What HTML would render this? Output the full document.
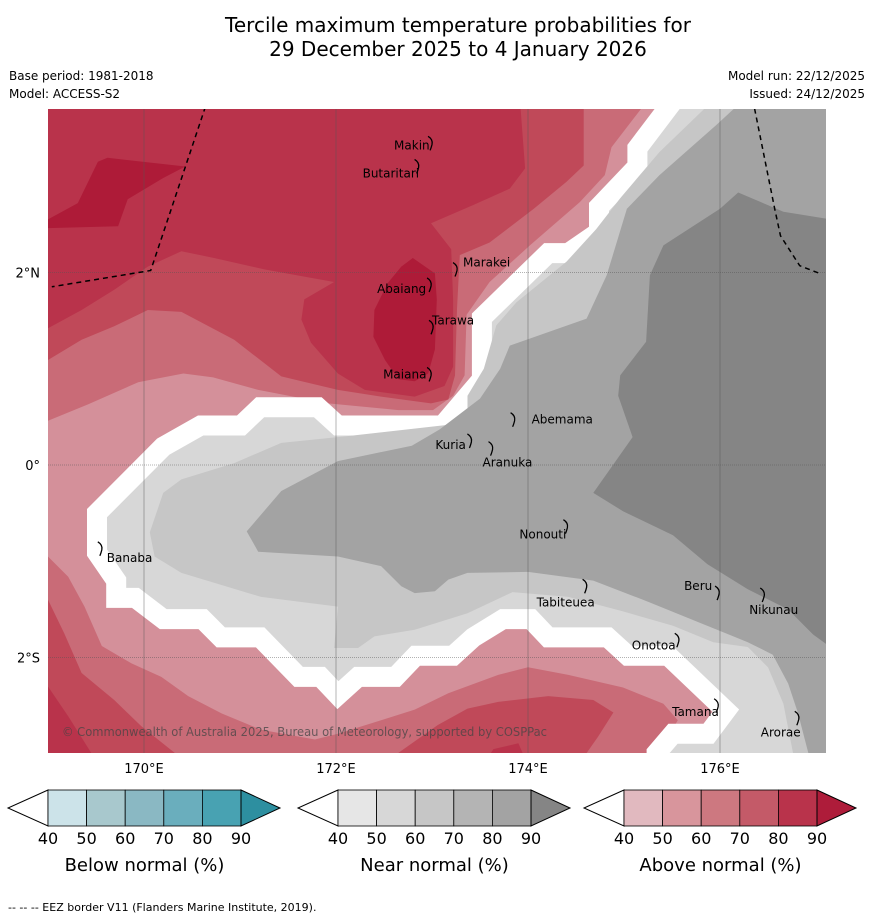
<!DOCTYPE html>
<html><head><meta charset="utf-8">
<style>
html,body{margin:0;padding:0;background:#fff;}
svg{display:block;font-family:"DejaVu Sans","Liberation Sans",sans-serif;}
</style></head>
<body>
<svg id="chart" width="873" height="919" viewBox="0 0 873 919" xmlns="http://www.w3.org/2000/svg">
<text x="458" y="32" font-size="20" text-anchor="middle" fill="#000">Tercile maximum temperature probabilities for</text>
<text x="458" y="56" font-size="20" text-anchor="middle" fill="#000">29 December 2025 to 4 January 2026</text>
<text x="9" y="80" font-size="12" fill="#000">Base period: 1981-2018</text>
<text x="9" y="98" font-size="12" fill="#000">Model: ACCESS-S2</text>
<text x="865" y="80" font-size="12" text-anchor="end" fill="#000">Model run: 22/12/2025</text>
<text x="865" y="98" font-size="12" text-anchor="end" fill="#000">Issued: 24/12/2025</text>
<defs><clipPath id="mapclip"><rect x="48" y="109" width="778" height="644"/></clipPath></defs>
<g id="map" clip-path="url(#mapclip)"></g>
<g id="axes"></g>
<g id="cbars"></g>
<text x="8" y="911" font-size="11" fill="#000">--  --  -- EEZ border V11 (Flanders Marine Institute, 2019).</text>
</svg>
<script>
// ---- data (lon, lat) ----
const above60Top=[[168.95,3.74],[175.21,3.74],[174.87,3.30],[174.80,3.01],[174.54,2.73],[174.02,2.28],[173.60,1.90],[173.36,1.56],[173.34,0.93],[173.22,0.72],[173.01,0.57],[172.65,0.57],[171.92,0.64],[171.19,0.78],[170.72,0.91],[170.41,0.95],[169.94,0.86],[169.42,0.63],[169.00,0.46],[168.95,0.46]];
const above70Top=[[168.95,3.74],[174.58,3.74],[174.58,3.11],[174.40,2.94],[174.06,2.66],[173.60,2.31],[173.29,2.18],[173.26,1.62],[173.24,0.93],[173.17,0.68],[172.99,0.64],[172.47,0.71],[172.02,0.78],[171.43,0.92],[170.94,1.30],[170.39,1.59],[170.04,1.61],[169.69,1.44],[169.35,1.30],[169.00,1.09],[168.95,1.09]];
const above80Top=[[168.95,3.74],[173.92,3.74],[173.97,3.08],[173.81,2.87],[173.43,2.70],[172.99,2.51],[173.20,2.24],[173.22,1.72],[173.22,1.02],[173.13,0.82],[172.82,0.71],[172.30,0.78],[172.02,0.95],[171.74,1.27],[171.64,1.51],[171.67,1.72],[171.98,1.90],[171.26,2.03],[170.73,2.15],[170.39,2.22],[170.04,2.06],[169.69,1.82],[169.35,1.61],[169.00,1.42],[168.95,1.42]];
const above90West=[[168.95,2.55],[169.00,2.55],[169.31,2.72],[169.52,3.15],[169.62,3.19],[170.43,3.10],[170.20,2.98],[169.83,2.76],[169.73,2.48],[169.00,2.46],[168.95,2.46]];
const above90Tarawa=[[172.80,2.15],[173.03,1.99],[173.05,1.72],[173.03,1.20],[172.96,0.95],[172.82,0.87],[172.65,0.89],[172.51,1.09],[172.39,1.33],[172.40,1.61],[172.54,1.89],[172.68,2.06]];
const above60South=[[168.95,-0.95],[169.00,-0.95],[169.21,-1.16],[169.38,-1.47],[169.56,-1.88],[169.87,-2.06],[170.18,-2.20],[170.46,-2.40],[170.81,-2.58],[171.22,-2.75],[171.78,-2.85],[172.02,-2.79],[172.47,-2.65],[172.82,-2.54],[173.17,-2.37],[173.69,-2.18],[174.00,-2.10],[174.42,-2.18],[174.99,-2.31],[175.41,-2.48],[175.56,-2.65],[175.46,-2.82],[175.30,-2.99],[175.30,-3.12],[168.95,-3.12]];
const above70SW=[[168.95,-1.40],[169.00,-1.40],[169.17,-1.75],[169.35,-2.16],[169.69,-2.44],[169.97,-2.71],[170.32,-2.99],[170.32,-3.12],[168.95,-3.12]];
const above80SW=[[168.95,-2.30],[169.00,-2.30],[169.21,-2.61],[169.45,-2.99],[169.45,-3.12],[168.95,-3.12]];
const above70South=[[172.54,-3.12],[172.65,-2.99],[173.06,-2.70],[173.37,-2.53],[173.69,-2.46],[174.21,-2.40],[174.68,-2.44],[174.89,-2.57],[174.73,-2.82],[174.52,-3.12]];
const above80South=[[173.53,-3.12],[173.64,-2.95],[173.90,-2.89],[174.00,-3.12]];
const near50=[[175.55,3.83],[175.14,3.29],[175.14,3.10],[174.74,2.68],[174.74,2.42],[174.42,2.20],[174.21,2.20],[173.52,1.53],[173.52,0.89],[173.11,0.41],[172.02,0.41],[171.81,0.60],[171.21,0.60],[171.01,0.41],[170.59,0.41],[170.20,0.19],[169.51,-0.50],[169.51,-0.91],[169.71,-1.20],[169.71,-1.38],[169.91,-1.38],[170.20,-1.60],[170.61,-1.60],[170.80,-1.79],[171.21,-1.79],[171.61,-2.20],[171.84,-2.20],[172.02,-2.39],[172.23,-2.20],[172.62,-2.20],[172.83,-1.98],[173.22,-1.98],[173.43,-1.79],[173.74,-1.60],[174.03,-1.60],[174.21,-1.79],[174.83,-1.79],[175.04,-1.98],[175.46,-1.98],[176.06,-2.55],[175.88,-2.79],[175.51,-2.79],[175.34,-2.99],[175.34,-3.21],[177.85,-3.21],[177.85,3.83]];
const near60=[[175.88,3.74],[175.37,3.25],[174.96,2.77],[174.71,2.45],[174.40,2.11],[173.88,1.69],[173.67,1.45],[173.54,1.00],[173.37,0.72],[173.37,0.44],[172.12,0.30],[171.43,0.23],[170.94,0.02],[170.39,-0.15],[170.20,-0.29],[170.06,-0.70],[170.11,-0.95],[170.39,-1.12],[171.22,-1.37],[172.02,-1.47],[171.98,-1.90],[172.23,-1.90],[172.40,-1.78],[172.82,-1.71],[173.37,-1.54],[173.84,-1.32],[174.42,-1.37],[174.99,-1.52],[175.51,-1.67],[175.93,-1.84],[176.29,-1.89],[176.50,-2.10],[176.66,-2.48],[176.76,-2.99],[177.33,-3.12],[177.33,3.74]];
const near80=[[176.19,3.74],[175.96,3.53],[175.37,3.01],[175.03,2.66],[174.82,1.97],[174.61,1.52],[173.81,1.24],[173.71,1.00],[173.50,0.69],[173.08,0.37],[172.79,0.20],[172.02,0.04],[171.43,-0.27],[171.07,-0.69],[171.19,-0.90],[172.02,-0.95],[172.47,-1.05],[172.68,-1.26],[172.82,-1.33],[173.03,-1.31],[173.17,-1.19],[173.37,-1.12],[174.00,-1.11],[174.68,-1.20],[175.25,-1.42],[175.77,-1.63],[176.29,-1.84],[176.55,-1.97],[176.71,-2.27],[176.81,-2.57],[176.92,-2.99],[177.33,-3.12],[177.33,3.74]];
const near90=[[176.19,2.83],[176.66,2.63],[177.15,2.55],[177.33,2.55],[177.33,-1.97],[177.15,-1.89],[176.97,-1.76],[176.71,-1.50],[176.29,-1.29],[175.87,-1.03],[175.51,-0.73],[174.99,-0.48],[174.68,-0.29],[175.09,0.29],[174.94,0.72],[174.96,0.93],[175.23,1.28],[175.27,1.97],[175.41,2.28],[176.00,2.66]];
const eezWest=[[170.64,3.72],[170.07,2.02],[169.04,1.85]];
const eezEast=[[176.36,3.70],[176.57,2.66],[176.63,2.38],[176.83,2.07],[177.06,1.98]];
const islandNames=["Makin","Butaritari","Marakei","Abaiang","Tarawa","Maiana","Abemama","Kuria","Aranuka","Nonouti","Banaba","Tabiteuea","Beru","Nikunau","Onotoa","Tamana","Arorae"];
const islandLon=[172.99,172.85,173.25,172.98,173.00,172.98,173.85,173.40,173.62,174.40,169.55,174.60,175.98,176.45,175.56,175.97,176.81];
const islandLat=[3.34,3.10,2.03,1.87,1.43,0.94,0.47,0.25,0.17,-0.64,-0.87,-1.26,-1.33,-1.35,-1.82,-2.50,-2.63];
const labelDx=[-37,-55,7,-53,0,-47,18,-35,-9,-47,6,-49,-34,-14,-46,-45,-37];
const labelDy=[6,11,-3,8,-3,4,4,8,18,12,13,20,-3,19,9,10,18];
const lonTicks=[170,172,174,176];
const latTicks=[2,0,-2];
const latLabels=["2°N","0°","2°S"];
const cbTicks=["40","50","60","70","80","90"];
const cbTitles=["Below normal (%)","Near normal (%)","Above normal (%)"];
const cbColors=[["#cce3e9","#a8c8cd","#8ab8c3","#6aaebd","#48a2b2","#2d8fa0"],["#e6e6e6","#d7d7d7","#c6c6c6","#b4b4b4","#a3a3a3","#858585"],["#e1b9bf","#d8959c","#cd7880","#c45a68","#b9334b","#ae1c3a"]];
// ---- projection ----
const X=lon=>144+(lon-170)*96;
const Y=lat=>465-lat*96.3;
const NS="http://www.w3.org/2000/svg";
const mapG=document.getElementById('map');
function pts(a){return a.map(p=>X(p[0]).toFixed(1)+','+Y(p[1]).toFixed(1)).join(' ');}
function poly(parent,a,fill,name,stroke,sw){
  const e=document.createElementNS(NS,'polygon');
  e.setAttribute('points',pts(a));e.setAttribute('fill',fill);
  if(stroke){e.setAttribute('stroke',stroke);e.setAttribute('stroke-width',sw);e.setAttribute('stroke-linejoin','miter');}
  
  
  parent.appendChild(e);return e;
}
const bg=document.createElementNS(NS,'rect');
bg.setAttribute('x',48);bg.setAttribute('y',109);bg.setAttribute('width',778);bg.setAttribute('height',644);bg.setAttribute('fill','#d4909a');


mapG.appendChild(bg);
poly(mapG,above60Top,'#c96b77','above-60-70-north');
poly(mapG,above70Top,'#c04959','above-70-80-north');
poly(mapG,above80Top,'#b9334b','above-80-90-north');
poly(mapG,above90West,'#ae1b38','above-90-west');
poly(mapG,above90Tarawa,'#ae1b38','above-90-tarawa');
poly(mapG,above60South,'#c96b77','above-60-70-south');
poly(mapG,above70SW,'#c04959','above-70-80-southwest');
poly(mapG,above80SW,'#b9334b','above-80-90-southwest');
poly(mapG,above70South,'#c04959','above-70-80-south');
poly(mapG,above80South,'#b9334b','above-80-90-south');
poly(mapG,near50,'#d7d7d7','near-50-60-region','#ffffff',20);
poly(mapG,near60,'#c6c6c6','near-60-70-region');
poly(mapG,near80,'#a3a3a3','near-80-90-region');
poly(mapG,near90,'#858585','near-90-region');
// gridlines
lonTicks.forEach(l=>{
  const g=document.createElementNS(NS,'line');
  g.setAttribute('x1',X(l));g.setAttribute('x2',X(l));g.setAttribute('y1',109);g.setAttribute('y2',753);
  g.setAttribute('stroke','#555');g.setAttribute('stroke-opacity','0.55');g.setAttribute('stroke-width','0.8');
  
  
  mapG.appendChild(g);
});
latTicks.forEach(l=>{
  const g=document.createElementNS(NS,'line');
  g.setAttribute('x1',48);g.setAttribute('x2',826);g.setAttribute('y1',Y(l));g.setAttribute('y2',Y(l));
  g.setAttribute('stroke','#555');g.setAttribute('stroke-opacity','0.6');g.setAttribute('stroke-width','0.8');g.setAttribute('stroke-dasharray','1,1');
  
  
  mapG.appendChild(g);
});
// EEZ
[eezWest,eezEast].forEach(a=>{
  const e=document.createElementNS(NS,'polyline');
  e.setAttribute('points',pts(a));e.setAttribute('fill','none');e.setAttribute('stroke','#000');e.setAttribute('stroke-width','1.5');e.setAttribute('stroke-dasharray','5,4');
  
  
  mapG.appendChild(e);
});
// islands
islandNames.forEach((n,i)=>{
  const x=X(islandLon[i]),y=Y(islandLat[i]);
  const p=document.createElementNS(NS,'path');
  p.setAttribute('d',`M${x-3},${y-7} q5,3 4,8 q-1,4 -2,6`);
  p.setAttribute('fill','none');p.setAttribute('stroke','#000');p.setAttribute('stroke-width','1.3');
  
  
  mapG.appendChild(p);
  const t=document.createElementNS(NS,'text');
  t.setAttribute('x',x+labelDx[i]);t.setAttribute('y',y+labelDy[i]);t.setAttribute('font-size','12');t.setAttribute('fill','#000');
  t.textContent=n;
  
  
  mapG.appendChild(t);
});
const cr=document.createElementNS(NS,'text');
cr.setAttribute('x',62);cr.setAttribute('y',736);cr.setAttribute('font-size','12');cr.setAttribute('fill','#444');cr.setAttribute('fill-opacity','0.75');
cr.setAttribute('textLength','485');cr.setAttribute('lengthAdjust','spacingAndGlyphs');
cr.textContent='© Commonwealth of Australia 2025, Bureau of Meteorology, supported by COSPPac';


mapG.appendChild(cr);
// axes labels
const ax=document.getElementById('axes');
lonTicks.forEach(l=>{
  const t=document.createElementNS(NS,'text');
  t.setAttribute('x',X(l));t.setAttribute('y',773);t.setAttribute('font-size','13');t.setAttribute('text-anchor','middle');
  t.textContent=l+'°E';
  
  
  ax.appendChild(t);
});
latTicks.forEach((l,i)=>{
  const t=document.createElementNS(NS,'text');
  t.setAttribute('x',40);t.setAttribute('y',Y(l)+5);t.setAttribute('font-size','13');t.setAttribute('text-anchor','end');
  t.textContent=latLabels[i];
  
  
  ax.appendChild(t);
});
// colorbars
const cbG=document.getElementById('cbars');
const cbX=[48,338,624];
const bw=38.6,cbTop=790,cbH=36;
cbX.forEach((x0,k)=>{
  const g=document.createElementNS(NS,'g');
  
  
  cbG.appendChild(g);
  const tri=document.createElementNS(NS,'polygon');
  tri.setAttribute('points',`${x0},${cbTop} ${x0-40},${cbTop+cbH/2} ${x0},${cbTop+cbH}`);
  tri.setAttribute('fill','#fff');tri.setAttribute('stroke','#000');tri.setAttribute('stroke-width','1');
  
  
  g.appendChild(tri);
  for(let j=0;j<5;j++){
    const r=document.createElementNS(NS,'rect');
    r.setAttribute('x',x0+j*bw);r.setAttribute('y',cbTop);r.setAttribute('width',bw);r.setAttribute('height',cbH);
    r.setAttribute('fill',cbColors[k][j]);r.setAttribute('stroke','#000');r.setAttribute('stroke-width','0.8');
    
    
    g.appendChild(r);
  }
  const xe=x0+5*bw;
  const tri2=document.createElementNS(NS,'polygon');
  tri2.setAttribute('points',`${xe},${cbTop} ${xe+39},${cbTop+cbH/2} ${xe},${cbTop+cbH}`);
  tri2.setAttribute('fill',cbColors[k][5]);tri2.setAttribute('stroke','#000');tri2.setAttribute('stroke-width','1');
  
  
  g.appendChild(tri2);
  cbTicks.forEach((s,j)=>{
    const t=document.createElementNS(NS,'text');
    t.setAttribute('x',x0+j*bw);t.setAttribute('y',844);t.setAttribute('font-size','16');t.setAttribute('text-anchor','middle');
    t.textContent=s;
    
    
    g.appendChild(t);
  });
  const tt=document.createElementNS(NS,'text');
  tt.setAttribute('x',x0+2.5*bw);tt.setAttribute('y',871);tt.setAttribute('font-size','18');tt.setAttribute('text-anchor','middle');
  tt.textContent=cbTitles[k];
  
  
  g.appendChild(tt);
});
</script>
</body></html>
